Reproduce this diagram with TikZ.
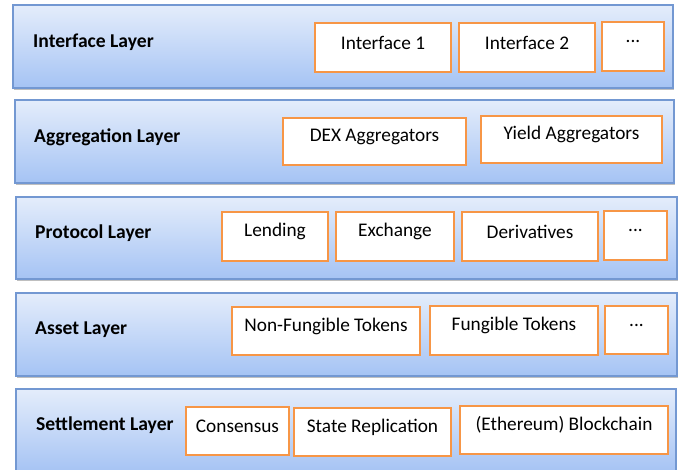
\documentclass[tikz,border=0pt]{standalone}
\usepackage{fontspec}
\setmainfont{Carlito}
\usetikzlibrary{shadows}
\definecolor{laytop}{HTML}{E4EDFB}
\definecolor{laybot}{HTML}{A5C3F4}
\definecolor{layedge}{HTML}{7398D2}
\definecolor{orng}{HTML}{F79646}
\newcommand{\up}[1]{\raisebox{5pt}[\height][\depth]{#1}}
\begin{document}
\begin{tikzpicture}[x=1pt,y=-1pt,
  layer/.style={draw=layedge, line width=1.3pt, top color=laytop, bottom color=laybot,
    inner sep=0pt, drop shadow={shadow xshift=1pt, shadow yshift=-2.5pt, fill=black, opacity=0.25}},
  lname/.style={anchor=west, font=\fontsize{19.6}{22}\selectfont\bfseries, inner sep=0pt},
  itembox/.style={draw=orng, line width=1.8pt, fill=white, inner sep=0pt,
    font=\fontsize{19.3}{22}\selectfont},
]
\useasboundingbox (0,0) rectangle (681,470);
% layers
\node[layer, minimum width=660pt, minimum height=83pt] (L1) at (343,46.5) {};
\node[layer, minimum width=659pt, minimum height=83pt] (L2) at (344.5,141.5) {};
\node[layer, minimum width=661pt, minimum height=82pt] (L3) at (346.5,238) {};
\node[layer, minimum width=661pt, minimum height=83pt] (L4) at (346.5,334.5) {};
\node[layer, minimum width=660pt, minimum height=84pt] (L5) at (346,431) {};
% layer names
\node[lname] (n1) at (33,42) {Interface Layer};
\node[lname] (n2) at (34,137) {Aggregation Layer};
\node[lname] (n3) at (35,233) {Protocol Layer};
\node[lname] (n4) at (35,330) {Asset Layer};
\node[lname] (n5) at (36,425) {Settlement Layer};
% interface
\node[itembox, minimum width=136pt, minimum height=49pt] (i1) at (383,47.5) {\up{Interface 1}};
\node[itembox, minimum width=136pt, minimum height=49pt] (i2) at (527,47.5) {\up{Interface 2}};
\node[itembox, minimum width=62pt, minimum height=49pt] (i3) at (633,46.5) {\up{...}};
% aggregation
\node[itembox, minimum width=183pt, minimum height=47pt] (a1) at (374.5,141.5) {\up{DEX Aggregators}};
\node[itembox, minimum width=181pt, minimum height=47pt] (a2) at (571.5,139.5) {\up{Yield Aggregators}};
% protocol
\node[itembox, minimum width=106pt, minimum height=49pt] (p1) at (275,236.5) {\up{Lending}};
\node[itembox, minimum width=118pt, minimum height=49pt] (p2) at (395,236.5) {\up{Exchange}};
\node[itembox, minimum width=136pt, minimum height=49pt] (p3) at (530,236.5) {\up{Derivatives}};
\node[itembox, minimum width=63pt, minimum height=49pt] (p4) at (635.5,235.5) {\up{...}};
% asset
\node[itembox, minimum width=188pt, minimum height=48pt] (s1) at (326,331) {\up{Non-Fungible Tokens}};
\node[itembox, minimum width=168pt, minimum height=49pt] (s2) at (514,330.5) {\up{Fungible Tokens}};
\node[itembox, minimum width=63pt, minimum height=48pt] (s3) at (636.5,330) {\up{...}};
% settlement
\node[itembox, minimum width=103pt, minimum height=48pt] (t1) at (237.5,431) {\up{Consensus}};
\node[itembox, minimum width=157pt, minimum height=48pt] (t2) at (372.5,432) {\up{State Replication}};
\node[itembox, minimum width=208pt, minimum height=48pt] (t3) at (564,430) {\up{(Ethereum) Blockchain}};
\end{tikzpicture}
\end{document}
